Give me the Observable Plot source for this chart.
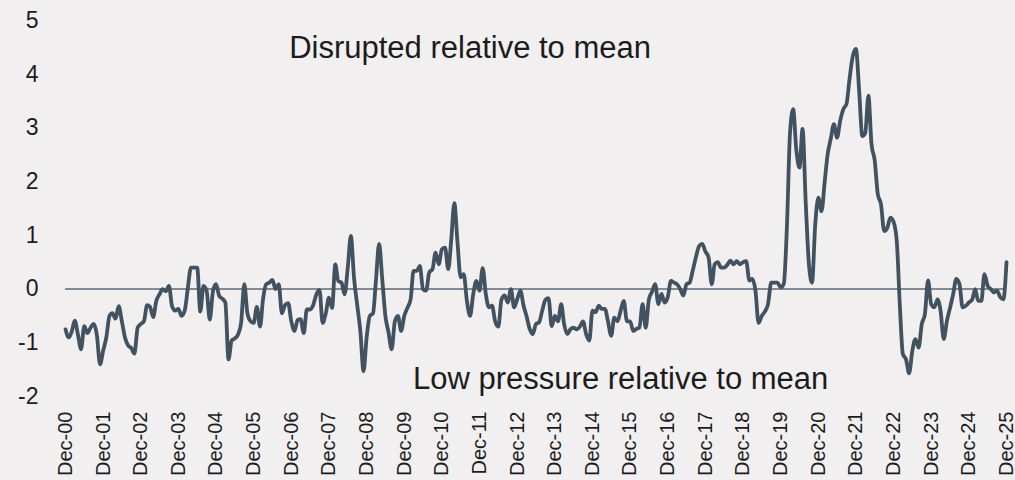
<!DOCTYPE html>
<html>
<head>
<meta charset="utf-8">
<script src="https://cdn.jsdelivr.net/npm/d3@7"></script>
<script src="https://cdn.jsdelivr.net/npm/@observablehq/plot@0.6"></script>
<style>
  html, body { margin: 0; padding: 0; background: #f1eff0; }
  #chart { width: 1015px; height: 480px; overflow: hidden; }
</style>
</head>
<body>
<div id="chart"></div>
<script>
// Monthly index values, first value = Dec 2000
const dec2000 = [-0.75];
const y2001_2005 = [
  -0.9, -0.78, -0.59, -0.85, -1.12, -0.69, -0.82, -0.72, -0.65, -0.85, -1.40, -1.15,
  -0.9, -0.5, -0.45, -0.55, -0.32, -0.6, -0.9, -1.05, -1.1, -1.2, -0.72, -0.65,
  -0.6, -0.3, -0.33, -0.52, -0.22, -0.1, 0, -0.04, 0.06, -0.32, -0.4, -0.37,
  -0.5, -0.4, 0, 0.4, 0.4, 0.4, -0.42, 0.06, -0.04, -0.57, -0.04, 0.09,
  -0.13, -0.18, -0.25, -1.31, -0.96, -0.92, -0.85, -0.63, 0.09, -0.45, -0.6, -0.63
];
const y2006_2010 = [
  -0.33, -0.7, -0.2, 0.09, 0.12, 0.17, 0.0, 0.09, -0.45, -0.3, -0.26, -0.6,
  -0.78, -0.57, -0.56, -0.82, -0.38, -0.38, -0.3, -0.1, -0.02, -0.63, -0.45, -0.16,
  -0.35, 0.46, 0.15, 0.12, -0.1, 0.4, 0.99, 0.2, -0.3, -0.78, -1.53, -0.9,
  -0.5, -0.45, 0.15, 0.84, 0.2, -0.5, -0.8, -1.12, -0.6, -0.5, -0.78, -0.5,
  -0.35, -0.19, 0.34, 0.34, 0.43, 0, -0.03, 0.31, 0.37, 0.68, 0.46, 0.74
];
const y2011_2015 = [
  0.77, 0.37, 0.89, 1.6, 0.89, 0.22, 0.28, -0.22, -0.5, -0.1, 0.15, -0.03,
  0.39, -0.1, -0.34, -0.31, -0.6, -0.7, -0.2, -0.12, -0.25, 0, -0.34, -0.19,
  -0.03, -0.31, -0.5, -0.74, -0.84, -0.65, -0.62, -0.4, -0.2, -0.17, -0.69, -0.5,
  -0.6, -0.28, -0.65, -0.84, -0.75, -0.72, -0.75, -0.7, -0.6, -0.84, -0.96, -0.4,
  -0.43, -0.31, -0.37, -0.37, -0.6, -0.87, -0.53, -0.6, -0.4, -0.22, -0.6, -0.6
];
const y2016_2020 = [
  -0.78, -0.74, -0.72, -0.28, -0.72, -0.19, -0.05, 0.09, -0.28, -0.09, -0.25, -0.15,
  0.15, 0.12, 0.09, 0, -0.12, 0.09, 0.12, 0.35, 0.6, 0.8, 0.84, 0.7,
  0.59, 0.09, 0.46, 0.5, 0.4, 0.4, 0.45, 0.53, 0.46, 0.52, 0.46, 0.5,
  0.52, 0.16, 0.19, -0.03, -0.63, -0.5, -0.42, -0.28, 0.12, 0.12, 0.12, 0.03,
  0.1, 1.2, 2.89, 3.35, 2.6, 2.26, 2.98, 1.6, 0.46, 0.12, 1.2, 1.7
];
const y2021_2025 = [
  1.45, 2.0, 2.5, 2.8, 3.07, 2.82, 3.13, 3.35, 3.45, 3.93, 4.34, 4.47,
  3.7, 2.85, 2.9, 3.6, 2.7, 2.4, 1.77, 1.58, 1.08, 1.14, 1.33, 1.25,
  0.9, -0.34, -1.21, -1.31, -1.57, -1.15, -0.93, -1.09, -0.65, -0.47, 0.16, -0.28,
  -0.34, -0.19, -0.4, -0.93, -0.6, -0.35, -0.1, 0.19, 0.09, -0.34, -0.31, -0.25,
  -0.2, 0, -0.22, -0.22, 0.28, 0.06, 0, -0.06, -0.03, -0.15, -0.19, 0.5
];

const tickYears = d3.range(2000, 2026);
const tickLabels = tickYears.map(y => "Dec-" + String(y % 100).padStart(2, "0"));
const yTicks = [-2, -1, 0, 1, 2, 3, 4, 5];
const labelTop = "Disrupted relative to mean";
const labelBottom = "Low pressure relative to mean";

const values = [...dec2000, ...y2001_2005, ...y2006_2010, ...y2011_2015, ...y2016_2020, ...y2021_2025];
const data = values.map((v, i) => ({ date: new Date(Date.UTC(2000, 11 + i, 1)), value: v }));
const tickDates = tickYears.map(y => new Date(Date.UTC(y, 11, 1)));
const labelByYear = new Map(tickYears.map((y, i) => [y, tickLabels[i]]));

const chart = Plot.plot({
  width: 1015,
  height: 480,
  marginLeft: 65,
  marginRight: 9,
  marginTop: 20,
  marginBottom: 84,
  style: { background: "#f1eff0", fontFamily: "'Liberation Sans', Arial, sans-serif", color: "#1c1c1c", overflow: "visible" },
  x: { type: "utc", domain: [tickDates[0], tickDates[tickDates.length - 1]] },
  y: { domain: [-2, 5] },
  marks: [
    Plot.axisY({ ticks: yTicks, tickSize: 0, tickPadding: 27, fontSize: 23, tickFormat: d => (d < 0 ? "-" + Math.abs(d) : String(d)), label: null }),
    Plot.axisX({ ticks: tickDates, tickSize: 0, tickPadding: 15, tickRotate: -90, fontSize: 20, tickFormat: d => labelByYear.get(d.getUTCFullYear()), label: null }),
    Plot.ruleY([0], { stroke: "#5b6a78", strokeWidth: 1.5 }),
    Plot.lineY(data, { x: "date", y: "value", stroke: "#435260", strokeWidth: 3.8, curve: "monotone-x", strokeLinejoin: "round" }),
    Plot.text([labelTop], { x: () => new Date(Date.UTC(2011, 8, 1)), y: () => 4.3, text: d => d, fontSize: 31, textAnchor: "middle", lineAnchor: "bottom", fill: "#1c1c1c" }),
    Plot.text([labelBottom], { x: () => new Date(Date.UTC(2015, 8, 1)), y: () => -1.86, text: d => d, fontSize: 31, textAnchor: "middle", lineAnchor: "bottom", fill: "#1c1c1c" })
  ]
});
document.getElementById("chart").append(chart);
</script>
</body>
</html>
